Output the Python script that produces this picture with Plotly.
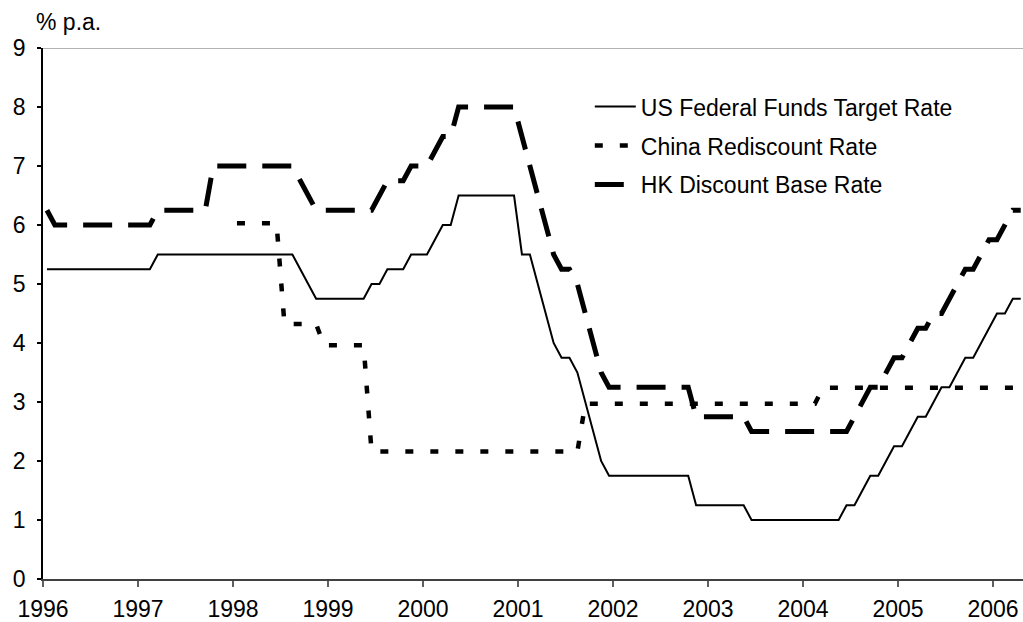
import plotly.graph_objects as go

# Monthly data, Jan 1996 - Apr 2006 (% p.a.)
start_year = 1996
us_rate = (
    [5.25] * 12 +                                                         # 1996
    [5.25, 5.25] + [5.5] * 10 +                                           # 1997
    [5.5] * 8 + [5.25, 5.0, 4.75, 4.75] +                                 # 1998
    [4.75] * 5 + [5.0, 5.0, 5.25, 5.25, 5.25, 5.5, 5.5] +                 # 1999
    [5.5, 5.75, 6.0, 6.0] + [6.5] * 8 +                                   # 2000
    [5.5, 5.5, 5.0, 4.5, 4.0, 3.75, 3.75, 3.5, 3.0, 2.5, 2.0, 1.75] +     # 2001
    [1.75] * 10 + [1.25, 1.25] +                                          # 2002
    [1.25] * 5 + [1.0] * 7 +                                              # 2003
    [1.0] * 5 + [1.25, 1.25, 1.5, 1.75, 1.75, 2.0, 2.25] +                # 2004
    [2.25, 2.5, 2.75, 2.75, 3.0, 3.25, 3.25, 3.5, 3.75, 3.75, 4.0, 4.25] +# 2005
    [4.5, 4.5, 4.75, 4.75]                                                # 2006
)
china_rate = (
    [None] * 24 +                                                         # 1996-1997
    [6.03] * 6 + [4.32] * 5 + [3.96] +                                    # 1998
    [3.96] * 5 + [2.16] * 7 +                                             # 1999
    [2.16] * 12 +                                                         # 2000
    [2.16] * 8 + [2.97] * 4 +                                             # 2001
    [2.97] * 12 +                                                         # 2002
    [2.97] * 12 +                                                         # 2003
    [2.97] * 2 + [3.24] * 10 +                                            # 2004
    [3.24] * 12 +                                                         # 2005
    [3.24] * 4                                                            # 2006
)
hk_rate = (
    [6.25] + [6.0] * 11 +                                                 # 1996
    [6.0, 6.0] + [6.25] * 7 + [7.0] * 3 +                                 # 1997
    [7.0] * 8 + [6.75, 6.5, 6.25, 6.25] +                                 # 1998
    [6.25] * 6 + [6.5, 6.75, 6.75, 6.75, 7.0, 7.0] +                      # 1999
    [7.0, 7.25, 7.5, 7.5] + [8.0] * 8 +                                   # 2000
    [7.5, 7.0, 6.5, 6.0, 5.5, 5.25, 5.25, 5.0, 4.5, 4.0, 3.5, 3.25] +     # 2001
    [3.25] * 10 + [2.75, 2.75] +                                          # 2002
    [2.75] * 5 + [2.5] * 7 +                                              # 2003
    [2.5] * 6 + [2.75, 3.0, 3.25, 3.25, 3.5, 3.75] +                      # 2004
    [3.75, 4.0, 4.25, 4.25, 4.5, 4.5, 4.75, 5.0, 5.25, 5.25, 5.5, 5.75] + # 2005
    [5.75, 6.0, 6.25, 6.25]                                               # 2006
)
year_ticks = list(range(1996, 2007))
y_ticks = list(range(0, 10))

# mid-month positions on a decimal-year axis
months = [start_year + (i + 0.5) / 12 for i in range(len(us_rate))]

FONT = "Liberation Sans, Arial, sans-serif"
FS = 23

fig = go.Figure()
fig.add_trace(go.Scatter(x=months, y=us_rate, mode="lines",
                         name="US Federal Funds Target Rate", legendgroup="us",
                         line=dict(color="black", width=2)))
fig.add_trace(go.Scatter(x=months, y=china_rate, mode="lines",
                         name="China Rediscount Rate", legendgroup="cn",
                         line=dict(color="black", width=4.5, dash="8px,17px")))
fig.add_trace(go.Scatter(x=months, y=hk_rate, mode="lines",
                         name="HK Discount Base Rate", legendgroup="hk",
                         line=dict(color="black", width=5, dash="29px,16px")))

fig.update_layout(
    width=1023, height=622,
    margin=dict(l=43, r=0, t=48, b=43),
    paper_bgcolor="white", plot_bgcolor="white",
    font=dict(family=FONT, size=FS, color="black"),
    showlegend=True,
    legend=dict(x=0.56 - 2 / 980, y=0.93, xanchor="left", yanchor="top",
                bgcolor="rgba(0,0,0,0)", font=dict(size=FS),
                itemwidth=41, traceorder="grouped", tracegroupgap=6),
    xaxis=dict(range=[1996, 1996 + 980 / 95], tickmode="array",
               tickvals=year_ticks, ticktext=[str(y) for y in year_ticks],
               showgrid=False, zeroline=False, showline=True,
               linecolor="#404040", linewidth=1.5,
               ticks="outside", ticklen=6, tickcolor="#606060", tickwidth=1.5,
               ticklabelstandoff=3),
    yaxis=dict(range=[0, 9], tickmode="array", tickvals=y_ticks,
               showgrid=False, zeroline=False, showline=True,
               linecolor="black", linewidth=1.5,
               ticks="outside", ticklen=4, tickcolor="black", tickwidth=1.5,
               ticklabelstandoff=7),
    shapes=[dict(type="line", xref="paper", yref="y", x0=0, x1=1, y0=9, y1=9,
                 line=dict(color="#999999", width=1.5))],
    annotations=[dict(text="% p.a.", xref="paper", yref="paper",
                      x=-9 / 980, y=1 + 26 / 531, xanchor="left", yanchor="middle",
                      showarrow=False, font=dict(size=FS))],
)

fig.write_html("out.html", config={"displayModeBar": False},
               post_script="document.body.style.margin='0';")
